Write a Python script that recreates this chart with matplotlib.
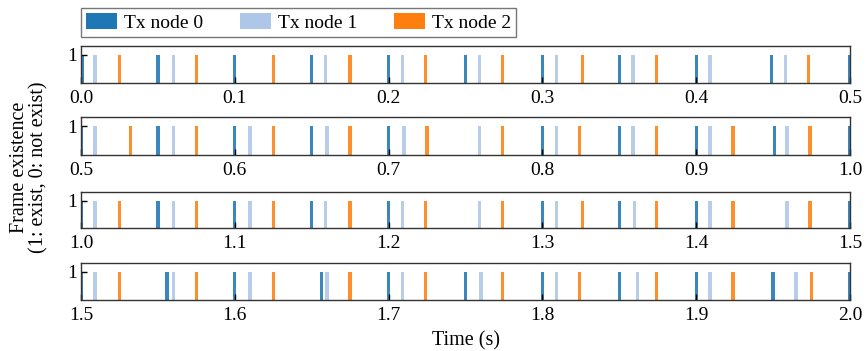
import matplotlib
matplotlib.use("Agg")
import matplotlib.pyplot as plt
from matplotlib.patches import Patch

plt.rcParams['font.family'] = ['Liberation Serif', 'DejaVu Serif']

node0 = [0.001, 0.05, 0.1, 0.15, 0.2, 0.25, 0.3, 0.35, 0.4, 0.449, 0.5,
         0.55, 0.6, 0.65, 0.7, 0.8, 0.85, 0.9, 0.951, 1.0,
         1.05, 1.1, 1.15, 1.2, 1.3, 1.35, 1.4, 1.5,
         1.556, 1.6, 1.6565, 1.7, 1.75, 1.8, 1.85, 1.9, 1.95, 2.0]
node1 = [0.009, 0.06, 0.159, 0.209, 0.259, 0.309, 0.359, 0.409, 0.458,
         0.509, 0.56, 0.61, 0.66, 0.71, 0.759, 0.809, 0.859, 0.909, 0.959,
         1.009, 1.06, 1.11, 1.159, 1.209, 1.259, 1.309, 1.36, 1.409, 1.459,
         1.509, 1.56, 1.61, 1.66, 1.709, 1.76, 1.809, 1.862, 1.909, 1.965]
node2 = [0.025, 0.075, 0.125, 0.175, 0.224, 0.274, 0.326, 0.374, 0.473,
         0.532, 0.575, 0.625, 0.675, 0.725, 0.774, 0.824, 0.874, 0.924, 0.974,
         1.025, 1.075, 1.125, 1.175, 1.224, 1.274, 1.326, 1.374, 1.424, 1.474,
         1.525, 1.575, 1.625, 1.675, 1.724, 1.774, 1.824, 1.874, 1.924, 1.975]

labels = ['Tx node 0', 'Tx node 1', 'Tx node 2']
colors = ['#1f77b4', '#aec7e8', '#ff7f0e']
series = [node0, node1, node2]
row_starts = [0.0, 0.5, 1.0, 1.5]
row_len = 0.5

W, H = 866, 351
fig = plt.figure(figsize=(W / 100, H / 100), dpi=100)

left, right = 81, 850
rows_px = [(46, 83), (117, 155), (192, 228), (263, 300)]

for (top, bot), x0 in zip(rows_px, row_starts):
    ax = fig.add_axes([left / W, 1 - bot / H, (right - left) / W, (bot - top) / H])
    for vals, c in zip(series, colors):
        v = [t for t in vals if x0 - 0.002 <= t <= x0 + row_len + 0.002]
        ax.bar(v, [1] * len(v), width=0.0022, color=c, alpha=0.88, linewidth=0)
    ax.set_xlim(x0, x0 + row_len)
    ax.set_ylim(0, 1.32)
    ax.set_yticks([1])
    ticks = [round(x0 + 0.1 * i, 1) for i in range(6)]
    ax.set_xticks(ticks)
    ax.set_xticklabels([f'{t:.1f}' for t in ticks])
    ax.tick_params(direction='in', labelsize=14, length=4, width=1, pad=5)
    ax.tick_params(axis='y', pad=3)
    for s in ax.spines.values():
        s.set_linewidth(1.0)
        s.set_color('#333333')

handles = [Patch(facecolor=c, label=l) for c, l in zip(colors, labels)]
fig.legend(handles=handles, loc='upper left', bbox_to_anchor=(81 / W, 1 - 8 / H),
           ncol=3, fontsize=14, frameon=True, fancybox=False, edgecolor='#555555',
           handlelength=1.6, handleheight=0.9, columnspacing=1.9, handletextpad=0.35,
           borderpad=0.25, borderaxespad=0)

fig.text(466 / W, 1 - 341 / H, 'Time (s)', ha='center', va='center', fontsize=14.5)
fig.text(29 / W, 1 - 167 / H, 'Frame existence\n(1: exist, 0: not exist)', ha='center',
         va='center', rotation=90, fontsize=14.5, linespacing=1.05)

fig.savefig('out.png', dpi=100)
